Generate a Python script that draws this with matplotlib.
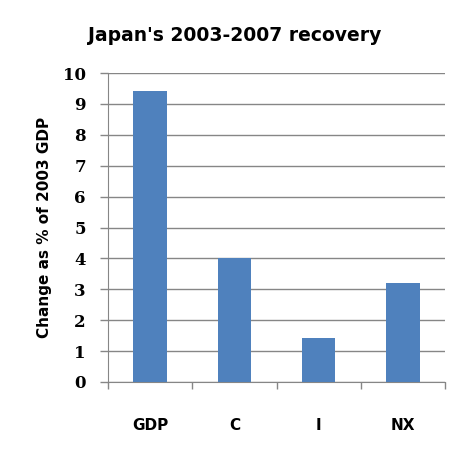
import matplotlib
matplotlib.use("Agg")
import matplotlib.pyplot as plt
import numpy as np

categories = ["GDP", "C", "I", "NX"]
values = [9.42, 4.0, 1.42, 3.2]
y_ticks = list(range(0, 11))

fig = plt.figure(figsize=(4.7, 4.51), dpi=100)
ax = fig.add_axes([0.2298, 0.153, 0.717, 0.685])

x = np.arange(len(categories))
ax.bar(x, values, width=0.4, color="#4F81BD", zorder=3)

ax.set_xlim(-0.5, len(categories) - 0.5)
ax.set_ylim(0, 10)
ax.set_yticks(y_ticks)
ax.set_yticklabels([str(t) for t in y_ticks], fontsize=12, fontweight="bold",
                   family="DejaVu Serif")
ax.grid(axis="y", color="#868686", linewidth=1, zorder=0)

# category labels without ticks; ticks at boundaries
ax.set_xticks(x)
ax.set_xticklabels(categories, fontsize=11, fontweight="bold")
ax.tick_params(axis="x", which="major", length=0, pad=26)
ax.set_xticks(np.arange(-0.5, len(categories)), minor=True)
ax.tick_params(axis="x", which="minor", length=5, color="#868686", width=1)
ax.tick_params(axis="y", length=6, color="#868686", width=1, pad=10)

for s in ["top", "right"]:
    ax.spines[s].set_visible(False)
for s in ["left", "bottom"]:
    ax.spines[s].set_color("#868686")

ax.set_ylabel("Change as % of 2003 GDP", fontsize=11, fontweight="bold", labelpad=8)
fig.text(0.5, 0.922, "Japan's 2003-2007 recovery", ha="center", va="center",
         fontsize=13.5, fontweight="bold")

fig.savefig("out.png", dpi=100)
